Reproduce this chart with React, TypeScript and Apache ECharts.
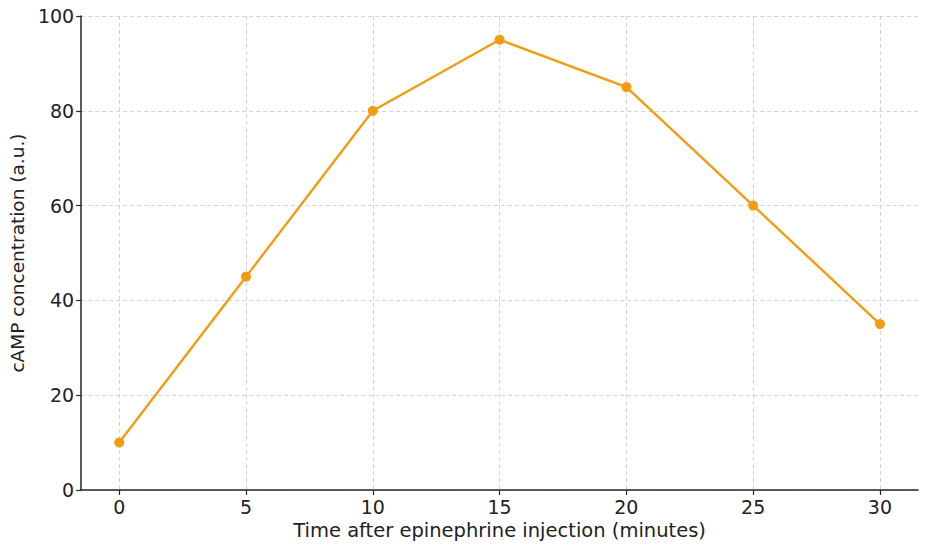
import React, { useEffect, useRef } from "react";
import * as echarts from "echarts";

const timeMinutes = [0, 5, 10, 15, 20, 25, 30];
const campValues = [10, 45, 80, 95, 85, 60, 35];
const xTicks = [0, 5, 10, 15, 20, 25, 30];

export default function App() {
  const ref = useRef<HTMLDivElement>(null);
  useEffect(() => {
    const chart = echarts.init(ref.current!, null, { renderer: "svg" });
    const font = "DejaVu Sans";
    const textColor = "#222222";
    chart.setOption({
      animation: false,
      backgroundColor: "#ffffff",
      grid: { left: 80, right: 7, top: 16, bottom: 57, containLabel: false },
      xAxis: {
        type: "value",
        min: -1.5,
        max: 31.5,
        name: "Time after epinephrine injection (minutes)",
        nameLocation: "middle",
        nameGap: 29,
        nameTextStyle: { fontFamily: font, fontSize: 19.5, color: textColor },
        axisLine: { show: true, onZero: false, lineStyle: { color: "#262626", width: 1.5 } },
        axisTick: { show: true, customValues: xTicks, length: 5, lineStyle: { color: "#262626", width: 1.2 } },
        axisLabel: { customValues: xTicks, fontFamily: font, fontSize: 19, color: textColor, margin: 7 },
        splitLine: { show: true, lineStyle: { color: "#c8c8c8", type: [4, 3], width: 0.8 } },
      },
      yAxis: {
        type: "value",
        min: 0,
        max: 100,
        interval: 20,
        name: "cAMP concentration (a.u.)",
        nameLocation: "middle",
        nameGap: 52,
        nameRotate: 90,
        nameTextStyle: { fontFamily: font, fontSize: 18.5, color: textColor },
        axisLine: { show: true, onZero: false, lineStyle: { color: "#262626", width: 1.5 } },
        axisTick: { show: true, length: 5, lineStyle: { color: "#262626", width: 1.2 } },
        axisLabel: { fontFamily: font, fontSize: 19, color: textColor, margin: 7 },
        splitLine: { show: true, lineStyle: { color: "#c8c8c8", type: [4, 3], width: 0.8 } },
      },
      series: [
        {
          type: "line",
          data: timeMinutes.map((t, i) => [t, campValues[i]]),
          color: "#F39C12",
          lineStyle: { width: 2.4, color: "#F39C12" },
          symbol: "circle",
          symbolSize: 10,
          itemStyle: { color: "#F39C12" },
        },
      ],
    });
    return () => chart.dispose();
  }, []);
  return (
    <div
      ref={ref}
      style={{ position: "fixed", left: 0, top: 0, width: 925, height: 547 }}
    />
  );
}
